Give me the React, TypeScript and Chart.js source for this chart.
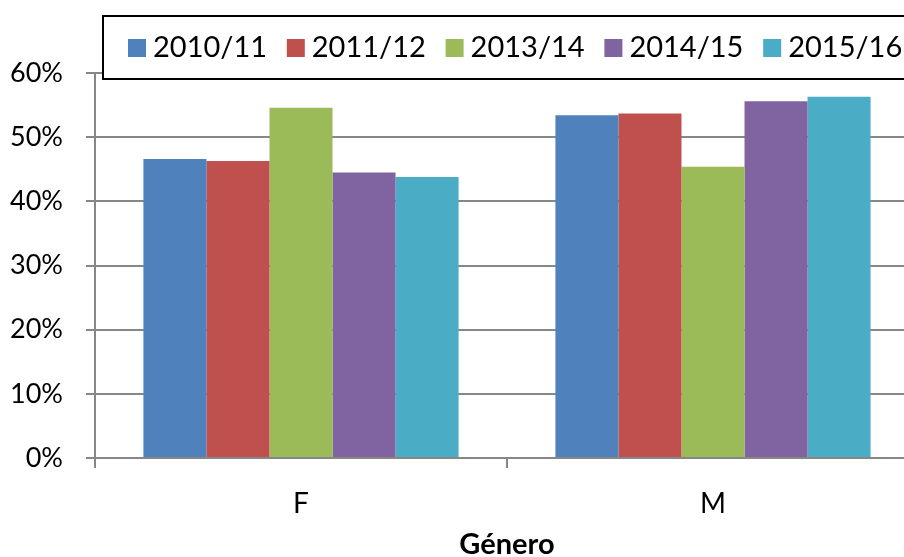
import React, { useEffect, useRef } from "react";
import { Chart, registerables } from "chart.js";

Chart.register(...registerables);

const categories = ["F", "M"];
const seriesLabels = ["2010/11", "2011/12", "2013/14", "2014/15", "2015/16"];
const seriesColors = ["#4F81BD", "#C0504D", "#9BBB59", "#8064A2", "#4BACC6"];
const v2010_11 = [46.6, 53.4];
const v2011_12 = [46.3, 53.7];
const v2013_14 = [54.6, 45.4];
const v2014_15 = [44.5, 55.6];
const v2015_16 = [43.8, 56.3];
const yTicks = [0, 10, 20, 30, 40, 50, 60];
const axisTitle = "Género";

const seriesValues = [v2010_11, v2011_12, v2013_14, v2014_15, v2015_16];

const FONT = "Lato, 'Open Sans', sans-serif";

const legendPlugin = {
  id: "boxLegend",
  afterDraw(chart: any) {
    const ctx = chart.ctx;
    ctx.save();
    const bx = 103, by = 16, bw = 900, bh = 63;
    ctx.fillStyle = "#ffffff";
    ctx.fillRect(bx, by, bw, bh);
    ctx.strokeStyle = "#000000";
    ctx.lineWidth = 2;
    ctx.strokeRect(bx, by, bw, bh);
    ctx.font = `29px ${FONT}`;
    ctx.textBaseline = "middle";
    ctx.textAlign = "left";
    chart.data.datasets.forEach((ds: any, i: number) => {
      const x = 128 + i * 158.8;
      ctx.fillStyle = ds.backgroundColor;
      ctx.fillRect(x, 39, 18, 18);
      ctx.fillStyle = "#000000";
      ctx.fillText(ds.label, x + 25, 48);
    });
    ctx.restore();
  },
};

export default function App() {
  const ref = useRef<HTMLCanvasElement>(null);
  useEffect(() => {
    if (!ref.current) return;
    const chart = new Chart(ref.current, {
      type: "bar",
      data: {
        labels: categories,
        datasets: seriesLabels.map((l, i) => ({
          label: l,
          data: seriesValues[i],
          backgroundColor: seriesColors[i],
          borderWidth: 0,
          barPercentage: 1,
          categoryPercentage: 0.765,
        })),
      },
      options: {
        responsive: false,
        animation: false,
        devicePixelRatio: 1,
        layout: { padding: { top: 73, left: 0, right: 0, bottom: 0 } },
        plugins: { legend: { display: false }, tooltip: { enabled: false } },
        scales: {
          x: {
            afterFit: (s: any) => { s.height = 99; },
            grid: { drawOnChartArea: false, drawTicks: true, tickLength: 10, color: "#878787", lineWidth: 2, offset: true },
            border: { display: true, color: "#878787", width: 2 },
            ticks: { color: "#000", font: { family: FONT, size: 28 }, padding: 19 },
            title: { display: true, text: axisTitle, color: "#000", font: { family: FONT, size: 29, weight: "bold", lineHeight: 1 }, padding: { top: 0, bottom: -2 } },
          },
          y: {
            min: 0,
            max: 60,
            afterFit: (s: any) => { s.width = 95; },
            afterBuildTicks: (s: any) => { s.ticks = yTicks.map((v) => ({ value: v })); },
            grid: { color: "#878787", lineWidth: 2, tickLength: 9, drawTicks: true },
            border: { display: true, color: "#878787", width: 2 },
            ticks: { color: "#000", font: { family: FONT, size: 27 }, padding: 23, callback: (v: any) => `${v}%` },
          },
        },
      },
      plugins: [legendPlugin],
    });
    return () => chart.destroy();
  }, []);
  return (
    <div style={{ position: "fixed", left: 0, top: 0, width: 904, height: 557, overflow: "hidden", background: "#fff" }}>
      <canvas ref={ref} width={919} height={557} style={{ display: "block", width: 919, height: 557 }} />
    </div>
  );
}
